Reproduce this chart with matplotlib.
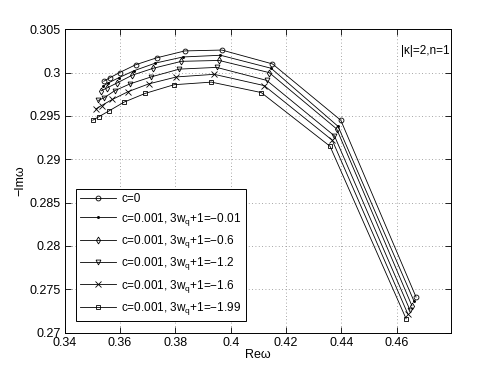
import numpy as np
import matplotlib
matplotlib.use("Agg")
import matplotlib.pyplot as plt
from matplotlib.ticker import FuncFormatter

plt.rcParams['font.family'] = ['Liberation Sans', 'DejaVu Sans']
plt.rcParams['font.size'] = 9
plt.rcParams['mathtext.fontset'] = 'custom'
plt.rcParams['mathtext.rm'] = 'Liberation Sans'
plt.rcParams['mathtext.it'] = 'Liberation Sans:italic'
plt.rcParams['mathtext.default'] = 'regular'

# --- данные ---
re_c0 = [0.3541, 0.3563, 0.3598, 0.3656, 0.3732, 0.3834, 0.3968, 0.4151, 0.4398, 0.4670]
im_c0 = [0.2990, 0.2994, 0.3000, 0.3009, 0.3017, 0.3025, 0.3026, 0.3010, 0.2945, 0.2741]

re_001 = [0.3537, 0.3557, 0.3595, 0.3649, 0.3728, 0.3827, 0.3963, 0.4146, 0.4388, 0.4663]
im_001 = [0.2984, 0.2988, 0.2994, 0.3002, 0.3011, 0.3018, 0.3020, 0.3005, 0.2938, 0.2736]

re_06 = [0.3532, 0.3551, 0.3589, 0.3644, 0.3720, 0.3822, 0.3958, 0.4139, 0.4383, 0.4655]
im_06 = [0.2979, 0.2982, 0.2988, 0.2997, 0.3005, 0.3013, 0.3014, 0.3000, 0.2935, 0.2731]

re_12 = [0.3522, 0.3543, 0.3580, 0.3636, 0.3712, 0.3814, 0.3949, 0.4130, 0.4375, 0.4648]
im_12 = [0.2968, 0.2971, 0.2979, 0.2987, 0.2995, 0.3004, 0.3006, 0.2991, 0.2927, 0.2726]

re_16 = [0.3512, 0.3533, 0.3572, 0.3629, 0.3704, 0.3804, 0.3940, 0.4121, 0.4367, 0.4641]
im_16 = [0.2958, 0.2962, 0.2969, 0.2978, 0.2987, 0.2995, 0.2998, 0.2985, 0.2922, 0.2721]

re_199 = [0.3501, 0.3523, 0.3561, 0.3615, 0.3691, 0.3795, 0.3930, 0.4110, 0.4359, 0.4634]
im_199 = [0.2945, 0.2949, 0.2956, 0.2966, 0.2976, 0.2986, 0.2989, 0.2977, 0.2915, 0.2716]

labels = ['c=0',
          'c=0.001, 3w$_q$+1=\u22120.01',
          'c=0.001, 3w$_q$+1=\u22120.6',
          'c=0.001, 3w$_q$+1=\u22121.2',
          'c=0.001, 3w$_q$+1=\u22121.6',
          'c=0.001, 3w$_q$+1=\u22121.99']
markers = ['o', '.', 'd', 'v', 'x', 's']

x_ticks = [0.34, 0.36, 0.38, 0.40, 0.42, 0.44, 0.46]
y_ticks = [0.27, 0.275, 0.28, 0.285, 0.29, 0.295, 0.30, 0.305]

# --- рисунок ---
fig = plt.figure(figsize=(4.98, 3.75), dpi=100)
ax = fig.add_axes([0.13, 0.113, 0.776, 0.809])

series = [(re_c0, im_c0), (re_001, im_001), (re_06, im_06),
          (re_12, im_12), (re_16, im_16), (re_199, im_199)]
for (xs, ys), m, lab in zip(series, markers, labels):
    ms = 3.5
    if m == '.':
        ms = 3
    if m == 'x':
        ms = 4.5
    ax.plot(xs, ys, color='black', lw=0.6, marker=m, markersize=ms,
            markerfacecolor='none' if m not in ('.', 'x') else 'black',
            markeredgewidth=0.6, label=lab)

ax.set_xlim(0.34, 0.4797)
ax.set_ylim(0.27, 0.305)
ax.set_xticks(x_ticks)
ax.set_yticks(y_ticks)
fmt = FuncFormatter(lambda v, p: '%g' % round(v, 4))
ax.xaxis.set_major_formatter(fmt)
ax.yaxis.set_major_formatter(fmt)
ax.tick_params(direction='in', length=4, width=0.6, top=True, right=True,
               labelsize=9, pad=3)
ax.grid(True, linestyle=(0, (1, 3)), color='#888888', linewidth=0.6)
for s in ax.spines.values():
    s.set_linewidth(0.7)

ax.set_xlabel('Re\u03c9', fontsize=9, labelpad=0)
ax.set_ylabel('\u2212Im\u03c9', fontsize=9, labelpad=2)

ax.text(0.4793, 0.3025, '|\u03ba|=2,n=1', ha='right', va='center', fontsize=8.5)

leg = ax.legend(loc='lower left', bbox_to_anchor=(0.0285, 0.038), borderaxespad=0,
                fancybox=False, edgecolor='black', framealpha=1, numpoints=1,
                handlelength=3.1, handletextpad=0.4, labelspacing=0.45,
                borderpad=0.35, fontsize=8.5)
leg.get_frame().set_linewidth(0.7)

fig.savefig('out.png', dpi=100)
